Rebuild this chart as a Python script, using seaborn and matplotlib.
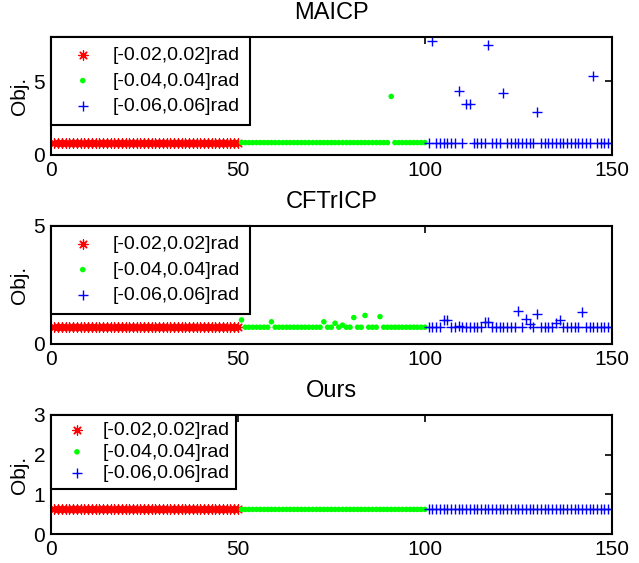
import numpy as np
import pandas as pd
import seaborn as sns
import matplotlib.pyplot as plt

# trial numbers for the three rotation ranges
idx_small = np.arange(1, 51)
idx_mid = np.arange(51, 101)
idx_large = np.arange(101, 151)

labels = ['[-0.02,0.02]rad', '[-0.04,0.04]rad', '[-0.06,0.06]rad']
titles = ['MAICP', 'CFTrICP', 'Ours']

# objective value most trials settle at, per method
maicp_base = 0.84
cftricp_base = 0.71
ours_base = 0.62

# trials that ended off the baseline {trial: objective}
maicp_mid_out = {91: 3.97}
maicp_large_out = {102: 7.74, 109: 4.35, 111: 3.43, 112: 3.48, 117: 7.47,
                   121: 4.17, 130: 2.91, 145: 5.38}
cftricp_mid_out = {51: 1.02, 59: 0.94, 73: 0.94, 76: 0.88, 78: 0.80,
                   81: 1.12, 84: 1.21, 88: 1.16}
cftricp_large_out = {105: 1.03, 106: 1.03, 109: 0.78, 116: 0.95, 117: 0.95,
                     125: 1.40, 127: 1.05, 128: 0.84, 130: 1.27, 135: 0.90,
                     136: 1.02, 142: 1.35}

ylims = [(0, 8), (0, 5), (0, 3)]
yticks = [[0, 5], [0, 5], [0, 1, 2, 3]]


def series(idx, base, out):
    y = np.full(len(idx), base, dtype=float)
    for k, v in out.items():
        y[idx == k] = v
    return pd.DataFrame({'trial': idx, 'obj': y})


panels = [
    [series(idx_small, maicp_base, {}), series(idx_mid, maicp_base, maicp_mid_out),
     series(idx_large, maicp_base, maicp_large_out)],
    [series(idx_small, cftricp_base, {}), series(idx_mid, cftricp_base, cftricp_mid_out),
     series(idx_large, cftricp_base, cftricp_large_out)],
    [series(idx_small, ours_base, {}), series(idx_mid, ours_base, {}),
     series(idx_large, ours_base, {})],
]

sns.set_style('white')
plt.rcParams['font.family'] = ['Liberation Sans', 'DejaVu Sans']
plt.rcParams['font.size'] = 14
plt.rcParams['text.color'] = 'k'
plt.rcParams['axes.labelcolor'] = 'k'
plt.rcParams['xtick.color'] = 'k'
plt.rcParams['ytick.color'] = 'k'

fig = plt.figure(figsize=(6.39, 5.63), dpi=100)
boxes = [[0.0793, 0.7247, 0.8784, 0.2096],
         [0.0793, 0.3890, 0.8784, 0.2096],
         [0.0793, 0.0515, 0.8784, 0.2114]]

# marker, colour, size, linewidth (matlab '*', '.', '+')
styles = [((8, 2, 0), (1, 0, 0), 45, 0.9),
          ('o', (0, 1, 0), 16, 0),
          ('+', (0, 0, 1), 60, 1.0)]

leg_kw = [dict(borderpad=0.5, labelspacing=0.4, handlelength=2.3, handletextpad=0.4),
          dict(borderpad=0.5, labelspacing=0.4, handlelength=2.3, handletextpad=0.4),
          dict(borderpad=0.35, labelspacing=0.2, handlelength=2.0, handletextpad=0.3)]

for i, box in enumerate(boxes):
    ax = fig.add_axes(box)
    for df, lab, (m, c, s, lw) in zip(panels[i], labels, styles):
        ec = 'none' if m == 'o' else c
        sns.scatterplot(data=df, x='trial', y='obj', marker=m, color=c, s=s,
                        linewidth=lw, edgecolor=ec, label=lab, ax=ax)
    ax.set_xlim(0, 150)
    ax.set_ylim(*ylims[i])
    ax.set_xticks([0, 50, 100, 150])
    ax.set_yticks(yticks[i])
    ax.set_xlabel('')
    ax.set_ylabel('Obj.', fontsize=15, labelpad=3)
    ax.set_title(titles[i], fontsize=17, pad=13)
    ax.tick_params(direction='in', length=5, width=1.2, top=True, right=True,
                   labelsize=15, pad=4)
    for sp in ax.spines.values():
        sp.set_linewidth(1.5)
        sp.set_color('k')
    leg = ax.legend(loc='upper left', borderaxespad=0, fontsize=14,
                    fancybox=False, framealpha=1, edgecolor='k', **leg_kw[i])
    leg.get_frame().set_linewidth(1.5)

fig.savefig('out.png', dpi=100)
